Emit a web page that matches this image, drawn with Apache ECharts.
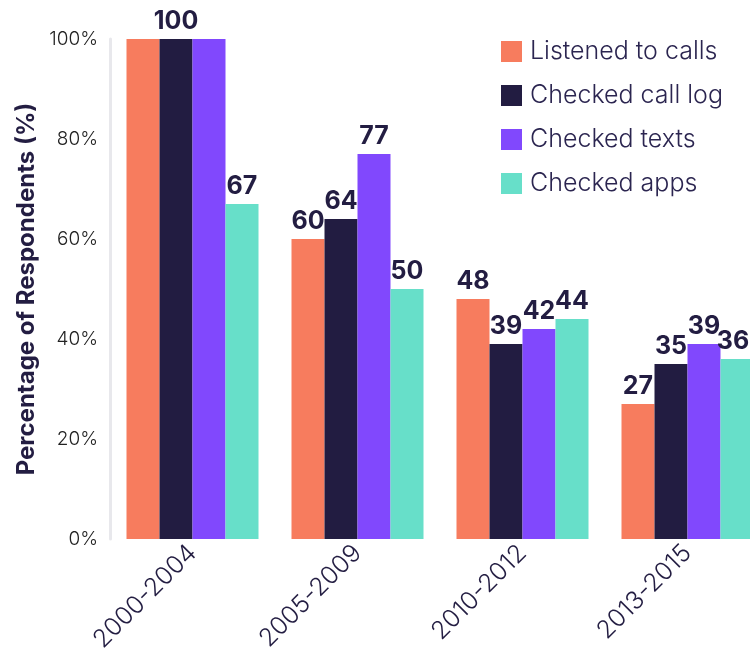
<!DOCTYPE html>
<html>
<head>
<meta charset="utf-8">
<script src="https://cdn.jsdelivr.net/npm/echarts@6/dist/echarts.min.js"></script>
<style>
  html, body { margin: 0; padding: 0; background: #fff; }
  #chart { width: 750px; height: 656px; }
</style>
</head>
<body>
<div id="chart"></div>
<script>
const periods = ["2000-2004", "2005-2009", "2010-2012", "2013-2015"];
const listenedCalls = [100, 60, 48, 27];
const checkedCallLog = [100, 64, 39, 35];
const checkedTexts = [100, 77, 42, 39];
const checkedApps = [67, 50, 44, 36];
const yTicks = [0, 20, 40, 60, 80, 100];

const navy = "#231d42";
const chart = echarts.init(document.getElementById("chart"));

// first group: the three 100s get one shared label on the dark bar
function hideFirst(vals) {
  return vals.map((v, i) => i === 0 ? { value: v, label: { show: false } } : v);
}

// last teal bar is clipped by the edge, pull its label in a little
function nudgeLast(vals) {
  return vals.map((v, i) => i === vals.length - 1 ? { value: v, label: { offset: [-4, 0] } } : v);
}

function bar(name, color, data) {
  return {
    type: "bar",
    name: name,
    data: data,
    barGap: "0%",
    barCategoryGap: "20%",
    itemStyle: { color: color },
    label: {
      show: true,
      position: "top",
      distance: 5,
      color: navy,
      fontFamily: "Inter",
      fontWeight: "bold",
      fontSize: 25
    }
  };
}

chart.setOption({
  animation: false,
  textStyle: { fontFamily: "Inter" },
  // last group runs past the right edge, as in the original
  grid: { left: 110, top: 39, bottom: 117, width: 660, outerBoundsMode: "none", containLabel: false },
  legend: {
    orient: "vertical",
    left: 496,
    top: 34,
    itemWidth: 21,
    itemHeight: 21,
    itemGap: 19,
    icon: "rect",
    textStyle: { fontSize: 25, fontWeight: 300, color: "#2b2550", lineHeight: 21, padding: [0, 0, 0, 3] }
  },
  xAxis: {
    type: "category",
    data: periods,
    axisLine: { show: false },
    axisTick: { show: false },
    axisLabel: {
      rotate: 45,
      fontSize: 25,
      fontWeight: 300,
      color: navy,
      margin: 10
    }
  },
  yAxis: {
    type: "value",
    min: 0,
    max: 100,
    interval: 20,
    name: "Percentage of Respondents (%)",
    nameLocation: "middle",
    nameGap: 71,
    nameTextStyle: { fontSize: 24, fontWeight: "bold", color: navy },
    axisLine: { show: true, lineStyle: { color: "#e8e8ec", width: 3 } },
    axisTick: { show: false },
    splitLine: { show: false },
    axisLabel: {
      fontSize: 19,
      fontWeight: 300,
      color: "#222",
      margin: 12,
      formatter: v => yTicks.includes(v) ? v + "%" : ""
    }
  },
  series: [
    bar("Listened to calls", "#f77c5e", hideFirst(listenedCalls)),
    bar("Checked call log", "#221c41", checkedCallLog),
    bar("Checked texts", "#8148fd", hideFirst(checkedTexts)),
    bar("Checked apps", "#67dfc9", nudgeLast(checkedApps))
  ]
});
</script>
</body>
</html>
